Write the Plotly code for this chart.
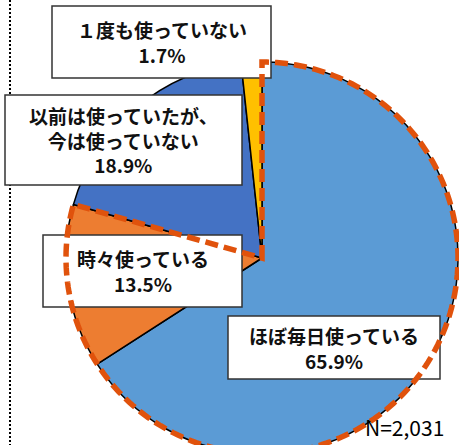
import numpy as np
import plotly.graph_objects as go

# ---- data ----
categories = ["ほぼ毎日使っている", "時々使っている", "以前は使っていたが、<br>今は使っていない", "１度も使っていない"]
values = [65.9, 13.5, 18.9, 1.7]
pct_labels = ["65.9%", "13.5%", "18.9%", "1.7%"]
colors = ["#5B9BD5", "#ED7D31", "#4472C4", "#FFC000"]
sample_note = "N=2,031"
highlight_count = 2  # first two slices outlined with the dashed line

# ---- layout constants (pixels) ----
W, H = 459, 454
CX, CY, R = 262, 258, 196

def px2paper(x, y):
    return x / W, 1 - y / H

fig = go.Figure()
fig.add_trace(go.Pie(
    labels=categories, values=values, sort=False, direction="clockwise", rotation=0,
    marker=dict(colors=colors, line=dict(color="black", width=1.5)),
    textinfo="none", hoverinfo="label+percent", showlegend=False,
    domain=dict(x=[(CX - R) / W, (CX + R) / W], y=[1 - (CY + R) / H, 1 - (CY - R) / H]),
))

shapes = []
# dotted vertical rule on the left
shapes.append(dict(type="line", xref="paper", yref="paper", x0=10 / W, x1=10 / W, y0=0, y1=1,
                   line=dict(color="black", width=2, dash="2px,2px"), layer="above"))

# label boxes (pixel boxes: x0, y0, x1, y1)
boxes = [(228, 316, 440, 379), (43, 235, 242, 307), (5, 95, 242, 185), (52, 6, 271, 78)]
annotations = []
for (x0, y0, x1, y1), cat, pct in zip(boxes, categories, pct_labels):
    a0, b0 = px2paper(x0, y0)
    a1, b1 = px2paper(x1, y1)
    shapes.append(dict(type="rect", xref="paper", yref="paper", x0=a0, x1=a1, y0=b1, y1=b0,
                       fillcolor="white", line=dict(color="#333333", width=1.5), layer="above"))
    cx, cy = px2paper((x0 + x1) / 2, (y0 + y1) / 2)
    annotations.append(dict(xref="paper", yref="paper", x=cx, y=cy, xanchor="center", yanchor="middle",
                            text=f"{cat}<br>{pct}", showarrow=False, align="center",
                            font=dict(family="Noto Sans CJK JP", size=19, color="#111111", weight="bold")))

# dashed outline around the highlighted slices, computed from the data
frac_end = sum(values[:highlight_count]) / sum(values)
theta = np.linspace(0, frac_end * 2 * np.pi, 200)
xs = CX + R * np.sin(theta)
ys = CY - R * np.cos(theta)
pts = [px2paper(CX, CY)] + [px2paper(x, y) for x, y in zip(xs, ys)]
path = "M " + " L ".join(f"{p[0]:.5f},{p[1]:.5f}" for p in pts) + " Z"
shapes.append(dict(type="path", xref="paper", yref="paper", path=path,
                   line=dict(color="#E0520C", width=5.5, dash="13px,6px"), layer="above"))

nx, ny = px2paper(364, 427)
annotations.append(dict(xref="paper", yref="paper", x=nx, y=ny, xanchor="left", yanchor="middle",
                        text=sample_note, showarrow=False, borderpad=0,
                        font=dict(family="Noto Sans CJK JP", size=21, color="black")))

fig.update_layout(width=W, height=H, margin=dict(l=0, r=0, t=0, b=0),
                  paper_bgcolor="white", plot_bgcolor="white",
                  shapes=shapes, annotations=annotations)
fig.write_html("out.html", config={"displayModeBar": False},
               post_script="document.body.style.margin='0';"
                           "document.body.style.overflow='hidden';"
                           "document.documentElement.style.overflow='hidden';")
